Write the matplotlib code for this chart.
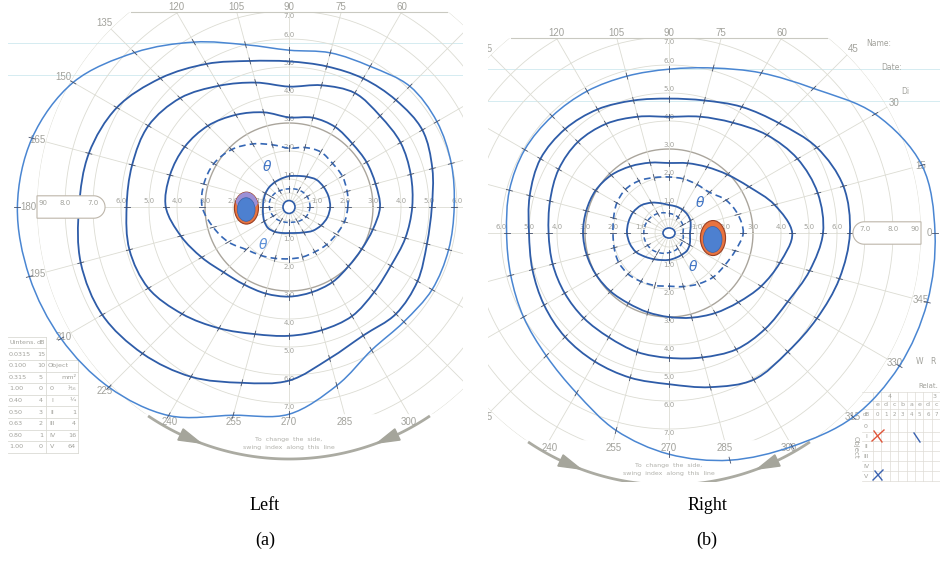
import numpy as np
import matplotlib.pyplot as plt
from matplotlib.path import Path
from matplotlib.patches import PathPatch, Ellipse, Polygon

# Meridianos (grados) en los que se leyeron las isopteras
meridianos = np.arange(0, 360, 15)

# Ojo izquierdo: radio (grados de campo visual) de cada isoptera por meridiano
izq_iso1 = [59, 60, 61, 61, 58, 57, 56, 60, 68, 78, 89, 95, 97, 96, 94, 91, 86, 77, 74, 66, 59, 58, 59, 59]
izq_iso2 = [51, 53, 55, 54, 53, 52, 52, 54, 59, 65, 71, 74, 75, 77, 77, 74, 70, 65, 62, 56, 53, 54, 53, 51]
izq_iso3 = [44, 45, 46, 46, 47, 45, 43, 46, 50, 55, 58, 58, 58, 59, 58, 54, 50, 47, 46, 45.5, 45, 43, 42, 43]
izq_iso4 = [32.5, 32, 32, 32, 33, 33, 32, 35, 38, 41, 43, 44, 44, 40, 36, 33, 32, 32, 32, 31.5, 31, 30, 30, 31]
izq_iso5 = [21, 21.5, 22, 22, 22.7, 22, 21, 23, 26, 29, 31, 31.5, 31, 28, 25, 21.5, 20, 19, 18.5, 18.5, 18.5, 19, 19.5, 20.5]
izq_iso6 = [14.7, 14.6, 14.3, 13.8, 12.5, 11.5, 11, 10.5, 10.2, 10, 9.7, 9.4, 9.3, 9.6, 10.2, 10.6, 10.2, 9.6, 9.3, 9.6, 10.5, 12, 13.2, 14.2]
izq_iso7 = [7.5, 7.5, 7.5, 7.3, 7, 6.7, 6.5, 6.5, 6.7, 7, 7.2, 7.2, 7, 6.8, 6.5, 6.2, 5.8, 5.6, 5.5, 5.6, 6, 6.5, 7, 7.3]

# Ojo derecho
der_iso1 = [95, 93.5, 85, 73, 66, 61, 58.5, 58, 58.5, 59, 59.5, 59, 58, 58.5, 60, 62, 66, 73, 79, 84, 88, 93, 95, 95.5]
der_iso2 = [64.6, 64.5, 61, 55.5, 52, 49, 48, 49, 51, 52.5, 53, 51.5, 50, 50.5, 51.5, 52.5, 53, 53.5, 54, 57, 60.5, 60, 61, 63]
der_iso3 = [55, 55, 53, 49.5, 45.5, 43, 41.5, 43, 45, 46, 45.5, 44, 43, 43, 43, 43, 43, 44, 44.6, 46, 48, 48.5, 49, 52]
der_iso4 = [44, 39, 33, 29.5, 27.2, 25.8, 25, 26, 27.5, 29.2, 30.3, 30.6, 30.7, 30.4, 30, 29.5, 29, 29.3, 30, 31.3, 33, 35, 38, 41]
der_iso5 = [26.5, 25.5, 23.5, 20.5, 20, 20, 20, 20.5, 21.5, 22, 21.5, 20.5, 20, 20.3, 20.8, 20.7, 20, 19.4, 19, 19.8, 21, 22.3, 23, 24.5]
der_iso6 = [7.5, 8, 8.8, 9.3, 9.6, 9.8, 10, 11, 12.5, 14, 14.8, 15, 15, 14.5, 13.6, 12, 10.8, 10, 9.6, 9.2, 9, 9, 8.5, 7.8]
der_iso7 = [5, 5.3, 5.7, 6, 6.5, 6.8, 7, 7.5, 8, 8.5, 8.8, 9, 9, 9, 8.8, 8.5, 8, 7.5, 7, 6.7, 6.3, 6, 5.6, 5.3]

# Mancha ciega: centro (x, y) y tamano (ancho, alto) en grados
izq_mancha = (-15.2, -0.4, 8.6, 11.4)
der_mancha = (15.7, -1.8, 9.0, 12.5)

anillos = [5, 10, 20, 30, 40, 50, 60, 70, 80, 90]
angulos = np.arange(0, 360, 15)

S = 2.8  # pixeles por grado
GRIS = '#a2a29c'
AZUL = '#2e5ca8'
AZUL_CLARO = '#4a86d2'


def crear_panel(fig, x0, x1, cx, cy, y1=482):
    ax = fig.add_axes([x0 / 940, (563 - y1) / 563, (x1 - x0) / 940, y1 / 563])
    ax.set_xlim((x0 - cx) / S, (x1 - cx) / S)
    ax.set_ylim((cy - y1) / S, cy / S)
    ax.axis('off')
    return ax


def px(centro, x, y):
    return (x - centro[0]) / S, (centro[1] - y) / S


def dibujar_rejilla(ax):
    t = np.linspace(0, 2 * np.pi, 721)
    borde = np.column_stack([90 * np.cos(t), np.clip(90 * np.sin(t), -74, 69.6)])
    recorte = Polygon(borde, closed=True, transform=ax.transData)
    for r in anillos:
        color = '#aaa59c' if r == 30 else '#dcdcd3'
        lw = 1.0 if r == 30 else 0.6
        ln, = ax.plot(r * np.cos(t), r * np.sin(t), color=color, lw=lw, zorder=1)
        ln.set_clip_path(recorte)
    for a in angulos:
        ta = np.radians(a)
        ln, = ax.plot([2.5 * np.cos(ta), 95 * np.cos(ta)], [2.5 * np.sin(ta), 95 * np.sin(ta)],
                      color='#dcdcd3', lw=0.6, zorder=1)
        ln.set_clip_path(recorte)
    ax.plot([-56.6, 56.6], [69.6, 69.6], color='#c9c9c1', lw=0.8, zorder=1)
    # lineas del formulario
    for yy in (58.7, 47.2):
        ax.axhline(yy, color='#d5ecf1', lw=0.7, zorder=0.5)

    # etiquetas de los meridianos
    for a in angulos:
        ta = np.radians(a)
        x, y = 93 * np.cos(ta), 93 * np.sin(ta)
        if y > 69.6:
            x, y = 69.6 / np.tan(ta), 71.6
        elif y < -74:
            x, y = -74 / np.tan(ta), -76.7
        ax.text(x, y, str(a), fontsize=7, color=GRIS, ha='center', va='center',
                family='Liberation Sans', clip_on=True)

    # etiquetas de los anillos
    for r in range(10, 70, 10):
        for sx in (-1, 1):
            ax.text(sx * r, 2, f'{r // 10}.0', fontsize=5, color=GRIS, ha='center',
                    va='center', clip_on=True, zorder=2)
    for r in range(10, 80, 10):
        ax.text(0, min(r + 1.5, 68.2), f'{r // 10}.0', fontsize=5, color=GRIS, ha='center', va='center', zorder=2)
        ax.text(0, -r - 1.6, f'{r // 10}.0', fontsize=5, color=GRIS, ha='center', va='center', zorder=2)

    # arco del indice
    ta = np.radians(np.linspace(236, 304, 100))
    ax.plot(90 * np.cos(ta), 90 * np.sin(ta), color='#abab a2'.replace(' ', ''), lw=2.0,
            solid_capstyle='butt', zorder=2)
    for a0, a1 in ((244.5, 249.5), (295.5, 290.5)):
        t0, t1 = np.radians(a0), np.radians(a1)
        tri = [(87.8 * np.cos(t0), 87.8 * np.sin(t0)), (92.2 * np.cos(t0), 92.2 * np.sin(t0)),
               (90 * np.cos(t1), 90 * np.sin(t1))]
        ax.add_patch(Polygon(tri, closed=True, color='#a5a59b', zorder=2))
    ax.text(0, -83.2, 'To  change  the  side,', fontsize=4.5, color='#b0b0aa', ha='center', va='center')
    ax.text(0, -85.8, 'swing  index  along  this  line', fontsize=4.5, color='#b0b0aa', ha='center', va='center')


def capsula(ax, lado):
    # ventana de 70-90 grados en el lado temporal
    t = np.radians(np.linspace(-90, 90, 40))
    arco = np.column_stack([69.7 - 4 * np.cos(t), 4 * np.sin(t)])
    pts = np.vstack([[[90, -4]], arco, [[90, 4]]])
    pts[:, 0] *= lado
    ax.add_patch(Polygon(pts, closed=True, facecolor='white', edgecolor='#bdb6aa', lw=0.8, zorder=4))
    for r in (70, 80):
        ax.text(lado * r, 1.5, f'{r // 10}.0', fontsize=5, color=GRIS, ha='center', va='center', zorder=5)
    ax.text(lado * 88, 1.5, '90', fontsize=5, color=GRIS, ha='center', va='center', zorder=5)


def curva_cerrada(radios):
    t = np.radians(meridianos)
    r = np.asarray(radios, float)
    p = np.column_stack([r * np.cos(t), r * np.sin(t)])
    n = len(p)
    verts = [p[0]]
    codes = [Path.MOVETO]
    for i in range(n):
        p0, p1, p2, p3 = p[i - 1], p[i], p[(i + 1) % n], p[(i + 2) % n]
        verts += [p1 + (p2 - p0) / 6, p2 - (p3 - p1) / 6, p2]
        codes += [Path.CURVE4] * 3
    return Path(verts, codes)


def isoptera(ax, radios, color=AZUL, lw=1.3, ls='-', paso=1):
    ax.add_patch(PathPatch(curva_cerrada(radios), facecolor='none', edgecolor=color,
                           lw=lw, ls=ls, zorder=3))
    t = np.radians(meridianos[::paso])
    r = np.asarray(radios, float)[::paso]
    for ti, ri in zip(t, r):
        ax.plot([(ri - 1.1) * np.cos(ti), (ri + 1.1) * np.cos(ti)],
                [(ri - 1.1) * np.sin(ti), (ri + 1.1) * np.sin(ti)],
                color='#44506a', lw=0.6, zorder=3)


def mancha(ax, datos, purpura):
    x, y, w, h = datos
    naranja = Ellipse((x, y), w, h, facecolor='#e8733f', edgecolor='#9a3f22', lw=0.8, zorder=6)
    ax.add_patch(naranja)
    if purpura:
        lila = Ellipse((x + 0.2, y + 2.8), w * 0.95, h * 0.6, facecolor='#9c90d6', edgecolor='none', zorder=6)
        ax.add_patch(lila)
        lila.set_clip_path(naranja)
    ax.add_patch(Ellipse((x - 0.1, y - 0.5), w * 0.74, h * 0.74, facecolor='#4d80d0',
                         edgecolor='#3a62a8', lw=0.5, zorder=7))


fig = plt.figure(figsize=(9.4, 5.63), dpi=100)

# Panel izquierdo
c_izq = (289, 207)
ax1 = crear_panel(fig, 8, 463, *c_izq)
dibujar_rejilla(ax1)
isoptera(ax1, izq_iso1, color=AZUL_CLARO, lw=1.1)
isoptera(ax1, izq_iso2)
isoptera(ax1, izq_iso3)
isoptera(ax1, izq_iso4)
isoptera(ax1, izq_iso5, color='#3567b5', lw=1.2, ls=(0, (4, 2.5)))
isoptera(ax1, izq_iso6, paso=2)
isoptera(ax1, izq_iso7, color='#3567b5', lw=1.1, ls=(0, (3, 2)), paso=2)
ax1.add_patch(Ellipse((0, 0), 4.3, 4.6, facecolor='none', edgecolor=AZUL, lw=1.2, zorder=3))
capsula(ax1, -1)
mancha(ax1, izq_mancha, True)
ax1.text(-7.9, 14.3, 'θ', color='#3f73c4', fontsize=10, ha='center', va='center', style='italic')
ax1.text(-9.3, -13.6, 'θ', color='#5b8fd6', fontsize=10, ha='center', va='center', style='italic')

# tabla de intensidades
filas = [('Uintens.', 'dB', '', ''), ('0.0315', '15', '', ''), ('0.100', '10', 'Object', ''),
         ('0.315', '5', '', 'mm²'), ('1.00', '0', '0', '¹⁄₁₆'), ('0.40', '4', 'I', '¼'),
         ('0.50', '3', 'II', '1'), ('0.63', '2', 'III', '4'), ('0.80', '1', 'IV', '16'),
         ('1.00', '0', 'V', '64')]
for i, fila in enumerate(filas):
    yy = 342.5 + 11.6 * i
    ax1.text(*px(c_izq, 9, yy), fila[0], fontsize=4.6, color=GRIS, ha='left', va='center')
    ax1.text(*px(c_izq, 41, yy), fila[1], fontsize=4.6, color=GRIS, ha='center', va='center')
    if fila[2] == 'Object':
        ax1.text(*px(c_izq, 48, yy), fila[2], fontsize=4.6, color=GRIS, ha='left', va='center')
    else:
        ax1.text(*px(c_izq, 52, yy), fila[2], fontsize=4.6, color=GRIS, ha='center', va='center')
    ax1.text(*px(c_izq, 76, yy), fila[3], fontsize=4.6, color=GRIS, ha='right', va='center')
for i in range(11):
    yy = 336.7 + 11.6 * i
    xf = 46 if i < 2 else 78
    ax1.plot(*zip(px(c_izq, 8, yy), px(c_izq, xf, yy)), color='#dadad4', lw=0.6)
ax1.plot(*zip(px(c_izq, 46, 336.7), px(c_izq, 46, 452.7)), color='#dadad4', lw=0.6)
ax1.plot(*zip(px(c_izq, 78, 360), px(c_izq, 78, 452.7)), color='#dadad4', lw=0.6)

# Panel derecho
c_der = (669, 233)
ax2 = crear_panel(fig, 488, 940, *c_der)
dibujar_rejilla(ax2)
isoptera(ax2, der_iso1, color=AZUL_CLARO, lw=1.1)
isoptera(ax2, der_iso2)
isoptera(ax2, der_iso3)
isoptera(ax2, der_iso4)
isoptera(ax2, der_iso5, color='#3567b5', lw=1.2, ls=(0, (4, 2.5)))
isoptera(ax2, der_iso6, paso=2)
isoptera(ax2, der_iso7, color='#3567b5', lw=1.1, ls=(0, (3, 2)), paso=2)
ax2.add_patch(Ellipse((0, 0), 4.3, 3.6, facecolor='none', edgecolor=AZUL, lw=1.2, zorder=3))
capsula(ax2, 1)
mancha(ax2, der_mancha, False)
ax2.text(11, 10.7, 'θ', color='#3f73c4', fontsize=10, ha='center', va='center', style='italic')
ax2.text(8.6, -12.1, 'θ', color='#3f73c4', fontsize=10, ha='center', va='center', style='italic')

# formulario del panel derecho
for txt, x, y in (('Name:', 879, 44), ('Date:', 892, 68), ('Di', 905, 92)):
    ax2.text(*px(c_der, x, y), txt, fontsize=5.5, color=GRIS, ha='center', va='center')
ax2.text(*px(c_der, 920, 361), 'W', fontsize=5.5, color=GRIS, ha='center', va='center')
ax2.text(*px(c_der, 933, 361), 'R', fontsize=5.5, color=GRIS, ha='center', va='center')
ax2.text(*px(c_der, 938, 386), 'Relat.', fontsize=5, color=GRIS, ha='right', va='center')

xs_col = 877.5 + 8.4 * np.arange(8)
for xx in 873 + 8.4 * np.arange(9):
    ax2.plot(*zip(px(c_der, xx, 392), px(c_der, xx, 482)), color='#dedcd6', lw=0.5)
for yy in (392, 401, 409, 419, 432, 441, 451, 461, 471, 481):
    ax2.plot(*zip(px(c_der, 862, yy), px(c_der, 940, yy)), color='#dedcd6', lw=0.5)
ax2.text(*px(c_der, 890, 397), '4', fontsize=4.5, color=GRIS, ha='center', va='center')
ax2.text(*px(c_der, 935, 397), '3', fontsize=4.5, color=GRIS, ha='center', va='center')
for xx, letra, num in zip(xs_col, 'edcbaedc', '01234567'):
    ax2.text(*px(c_der, xx, 405), letra, fontsize=4.5, color=GRIS, ha='center', va='center')
    ax2.text(*px(c_der, xx, 414), num, fontsize=4, color=GRIS, ha='center', va='center')
ax2.text(*px(c_der, 866, 414), 'dB', fontsize=4, color=GRIS, ha='center', va='center')
for yy, rom in zip((427, 437, 446, 456, 466, 476), ('0', 'I', 'II', 'III', 'IV', 'V')):
    ax2.text(*px(c_der, 866, yy), rom, fontsize=4.5, color=GRIS, ha='center', va='center')
ax2.text(*px(c_der, 856, 447), 'Object', fontsize=5, color=GRIS, ha='center', va='center', rotation=270)
ax2.plot(*zip(px(c_der, 872, 441), px(c_der, 884, 430)), color='#e0553a', lw=1.0)
ax2.plot(*zip(px(c_der, 874, 431), px(c_der, 882, 442)), color='#e0553a', lw=1.0)
ax2.plot(*zip(px(c_der, 914, 433), px(c_der, 920, 442)), color='#3a62b0', lw=1.0)
ax2.plot(*zip(px(c_der, 873, 480), px(c_der, 883, 470)), color='#3a62b0', lw=1.0)
ax2.plot(*zip(px(c_der, 875, 471), px(c_der, 882, 480)), color='#3a62b0', lw=1.0)

# Rotulos
fig.text(265 / 940, 1 - 505 / 563, 'Left', ha='center', va='center', family='Liberation Serif', fontsize=13)
fig.text(707 / 940, 1 - 505 / 563, 'Right', ha='center', va='center', family='Liberation Serif', fontsize=13)
fig.text(265 / 940, 1 - 540 / 563, '(a)', ha='center', va='center', family='Liberation Serif', fontsize=13)
fig.text(707 / 940, 1 - 540 / 563, '(b)', ha='center', va='center', family='Liberation Serif', fontsize=13)

fig.savefig('out.png', dpi=100)
